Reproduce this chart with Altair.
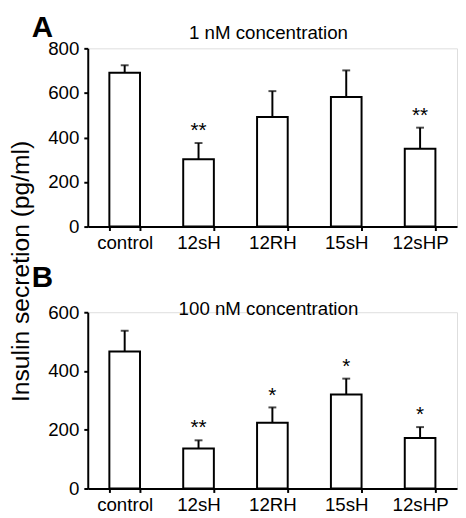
import altair as alt
import pandas as pd

categories = ["control", "12sH", "12RH", "15sH", "12sHP"]

a_mean = [690, 302, 492, 582, 349]
a_err = [34, 73, 116, 119, 95]
a_sig = ["", "**", "", "", "**"]

b_mean = [466, 136, 224, 320, 172]
b_err = [71, 28, 52, 54, 37]
b_sig = ["", "**", "*", "*", "*"]

FONT = "Liberation Sans"
W = 375


def panel(mean, err, sig, ymax, height, panel_label, title, title_y, label_y, show_ytitle):
    df = pd.DataFrame({
        "cat": categories,
        "mean": mean,
        "upper": [m + e for m, e in zip(mean, err)],
        "sig": sig,
    })
    xenc = alt.X("cat:N", sort=categories, title=None,
                 scale=alt.Scale(paddingInner=0.585, paddingOuter=0.2925),
                 axis=alt.Axis(labelAngle=0, tickBand="extent", tickSize=4, tickWidth=2,
                               domainWidth=2, domainColor="black", tickColor="black",
                               labelFontSize=19, labelColor="black", labelPadding=3,
                               labelFont=FONT))
    yaxis_kwargs = dict(values=list(range(0, ymax + 1, 100)),
                        labelExpr="datum.value % 200 == 0 ? datum.label : ''",
                        grid=False, tickSize=4, tickWidth=2, domainWidth=2,
                        domainColor="black", tickColor="black", labelFontSize=19,
                        labelColor="black", labelPadding=5, labelFont=FONT)
    if show_ytitle:
        yaxis_kwargs.update(title="Insulin secretion (pg/ml)", titleFontSize=25,
                            titleFontWeight="normal", titleColor="black", titleFont=FONT,
                            titleX=-60, titleY=226, titleBaseline="alphabetic",
                            titleAngle=270)
    else:
        yaxis_kwargs.update(title=None)
    yscale = alt.Scale(domain=[0, ymax], nice=False)
    base = alt.Chart(df)
    bars = base.mark_bar(fill="white", stroke="black", strokeWidth=2).encode(
        x=xenc,
        y=alt.Y("mean:Q", scale=yscale, axis=alt.Axis(**yaxis_kwargs)),
    )
    rule = base.mark_rule(color="black", strokeWidth=2).encode(
        x=alt.X("cat:N", sort=categories),
        y=alt.Y("mean:Q"),
        y2="upper:Q",
    )
    cap = base.mark_tick(color="black", thickness=2, size=8).encode(
        x=alt.X("cat:N", sort=categories),
        y=alt.Y("upper:Q"),
    )
    stars = base.mark_text(fontSize=21, dy=-6, baseline="alphabetic", font=FONT,
                           color="black").encode(
        x=alt.X("cat:N", sort=categories),
        y=alt.Y("upper:Q"),
        text="sig:N",
    )
    letter = alt.Chart(pd.DataFrame({"lab": [panel_label]})).mark_text(
        fontSize=30, fontWeight="bold", font=FONT, align="left",
        baseline="top", color="black"
    ).encode(x=alt.value(-57), y=alt.value(label_y), text="lab:N")
    heading = alt.Chart(pd.DataFrame({"t": [title]})).mark_text(
        fontSize=19, font=FONT, align="center", baseline="alphabetic", color="black"
    ).encode(x=alt.value(W / 2 - 4), y=alt.value(title_y), text="t:N")
    return alt.layer(bars, rule, cap, stars, letter, heading).properties(
        width=W, height=height,
    )


chart_a = panel(a_mean, a_err, a_sig, 800, 181, "A", "1 nM concentration", -9, -36, True)
chart_b = panel(b_mean, b_err, b_sig, 600, 179, "B", "100 nM concentration", 3, -50, False)

chart = alt.vconcat(chart_a, chart_b, spacing=87, bounds="flush").properties(
    padding=0
).configure_view(stroke=None).configure(font=FONT)

chart.save("out.html", embed_options={"renderer": "svg", "actions": False})
